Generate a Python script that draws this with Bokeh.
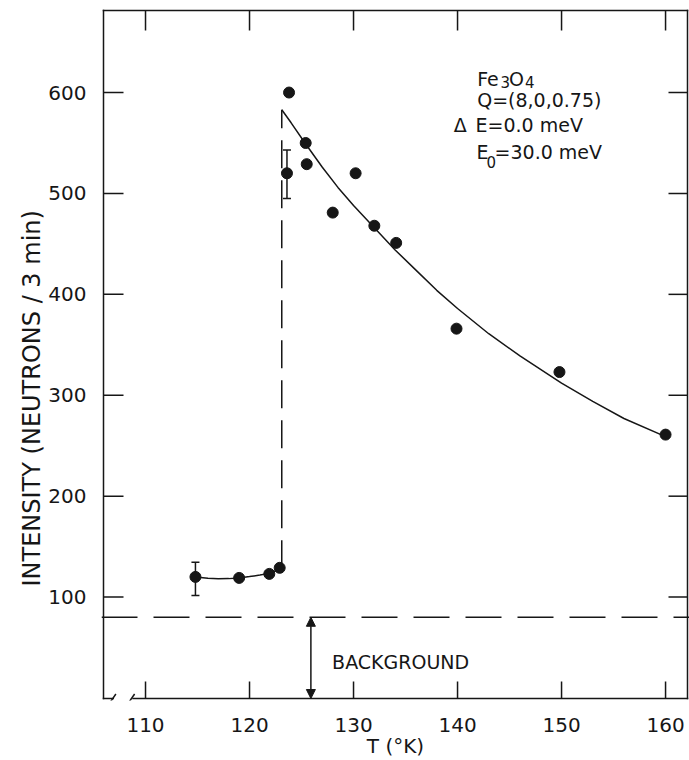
from bokeh.plotting import figure
from bokeh.models import (Range1d, FixedTicker, Span, Whisker, TeeHead, Title,
                          Arrow, NormalHead, ColumnDataSource)
from bokeh.core.properties import value
from bokeh.embed import file_html
from bokeh.resources import INLINE

# ---------------- data ----------------
T_points = [114.8, 119.0, 121.9, 122.9, 123.6, 123.8, 125.4, 125.5, 128.0, 130.2, 132.0, 134.1, 139.9, 149.8, 160.0]
I_points = [120, 119, 123, 129, 520, 600, 550, 529, 481, 520, 468, 451, 366, 323, 261]

err_T = [114.8, 123.6]
err_low = [101.6, 495]
err_high = [134.6, 543]

low_curve_T = [114.8, 116.0, 117.0, 118.0, 119.0, 120.0, 121.0, 121.9, 122.5, 122.9]
low_curve_I = [120.0, 118.7, 118.2, 118.3, 119.0, 120.3, 121.8, 123.5, 125.8, 128.7]

high_curve_T = [123.1, 124.0, 125.4, 127.0, 128.5, 130.0, 132.0, 134.0, 136.0, 138.0, 140.0,
                143.0, 146.0, 150.0, 153.0, 156.0, 160.0]
high_curve_I = [583, 570, 549, 526, 506, 488, 466, 444, 424, 404, 386, 361, 339, 312, 294, 277, 259]

jump_T = [123.1, 123.1]
jump_I = [128.7, 583]

background_level = 80
background_arrow_T = 125.9

x_ticks = [110, 120, 130, 140, 150, 160]
y_ticks = [100, 200, 300, 400, 500, 600]

# axis-box edges (data units) and scale (px per unit)
AX_L, AX_R = 105.96, 162.11
AX_B, AX_T = -0.5, 681.3
PX_X, PX_Y = 10.4, 1.012
PAD = 2  # px of frame beyond the drawn box lines

INK = "#161616"
FONT = "DejaVu Sans"

p = figure(width=689, height=760,
           x_range=Range1d(AX_L - PAD / PX_X, AX_R + PAD / PX_X),
           y_range=Range1d(AX_B - PAD / PX_Y, AX_T + PAD / PX_Y),
           output_backend="svg", toolbar_location=None,
           min_border_left=103 - PAD, min_border_right=0,
           min_border_top=10 - PAD, min_border_bottom=60 - PAD)
p.grid.visible = False
p.outline_line_color = None
p.background_fill_color = "white"
p.border_fill_color = "white"

# bottom axis: labels only
xa = p.xaxis[0]
xa.ticker = FixedTicker(ticks=x_ticks)
xa.axis_line_color = None
xa.major_tick_line_color = None
xa.minor_tick_line_color = None
xa.major_tick_in = 0
xa.major_tick_out = 0
xa.major_label_standoff = 17
xa.major_label_text_font = FONT
xa.major_label_text_font_size = "20px"
xa.major_label_text_color = INK
xa.axis_label = "T (°K)"
xa.axis_label_text_font = FONT
xa.axis_label_text_font_size = "20px"
xa.axis_label_text_font_style = "normal"
xa.axis_label_text_color = INK
xa.axis_label_standoff = -1

# left axis: labels only
ya = p.yaxis[0]
ya.ticker = FixedTicker(ticks=y_ticks)
ya.axis_line_color = None
ya.major_tick_line_color = None
ya.minor_tick_line_color = None
ya.major_tick_in = 0
ya.major_tick_out = 0
ya.major_label_standoff = 15
ya.major_label_text_font = FONT
ya.major_label_text_font_size = "20px"
ya.major_label_text_color = INK

p.add_layout(Title(text="INTENSITY (NEUTRONS / 3 min)", align="left", offset=114,
                   text_font=FONT, text_font_size="24px", text_font_style="normal",
                   text_color=INK, standoff=0), "left")

# box lines (bottom one broken near the origin)
p.segment(x0=[AX_L, AX_L, AX_R, AX_L, 108.8], y0=[AX_B, AX_T, AX_B, AX_B, AX_B],
          x1=[AX_L, AX_R, AX_R, 106.9, AX_R], y1=[AX_T, AX_T, AX_T, AX_B, AX_B],
          line_color=INK, line_width=1.5, line_cap="square")
p.segment(x0=[106.55, 108.35], y0=[-5, -5], x1=[107.15, 108.95], y1=[4, 4],
          line_color=INK, line_width=1.5)

# inward ticks on all four sides
n_x, n_y = len(x_ticks), len(y_ticks)
p.segment(x0=x_ticks, y0=[AX_B] * n_x, x1=x_ticks, y1=[AX_B + 17 / PX_Y] * n_x,
          line_color=INK, line_width=1.5)
p.segment(x0=x_ticks, y0=[AX_T] * n_x, x1=x_ticks, y1=[AX_T - 20 / PX_Y] * n_x,
          line_color=INK, line_width=1.5)
p.segment(x0=[AX_L] * n_y, y0=y_ticks, x1=[AX_L + 20 / PX_X] * n_y, y1=y_ticks,
          line_color=INK, line_width=1.5)
p.segment(x0=[AX_R] * n_y, y0=y_ticks, x1=[AX_R - 19 / PX_X] * n_y, y1=y_ticks,
          line_color=INK, line_width=1.5)

# background dashed line and arrow
p.add_layout(Span(location=background_level, dimension="width", line_color=INK,
                  line_width=1.5, line_dash="36 16"))
p.add_layout(Arrow(x_start=background_arrow_T, y_start=background_level,
                   x_end=background_arrow_T, y_end=AX_B, line_color=INK, line_width=1.5,
                   start=NormalHead(size=9, fill_color=INK, line_color=INK),
                   end=NormalHead(size=9, fill_color=INK, line_color=INK)))
p.text(x=[127.94], y=[36.1], text=["BACKGROUND"], text_font=value(FONT),
       text_font_size=value("19px"), text_color=INK, text_baseline="alphabetic",
       text_align="left")

# curves
p.line(low_curve_T, low_curve_I, line_color=INK, line_width=1.5)
p.line(high_curve_T, high_curve_I, line_color=INK, line_width=1.5)
p.line(jump_T, jump_I, line_color=INK, line_width=1.5, line_dash="28 12")

# error bars
err_src = ColumnDataSource(dict(x=err_T, lo=err_low, hi=err_high))
p.add_layout(Whisker(source=err_src, base="x", lower="lo", upper="hi", dimension="height",
                     line_color=INK, line_width=1.5,
                     lower_head=TeeHead(size=8, line_color=INK, line_width=1.5),
                     upper_head=TeeHead(size=8, line_color=INK, line_width=1.5)))

# data points
p.scatter(T_points, I_points, size=11, marker="circle", fill_color=INK, line_color=INK)

# annotation block
big_text = ["Fe", "O", "Q=(8,0,0.75)", "Δ", "E=0.0 meV", "E", "=30.0 meV"]
big_x = [141.89, 144.95, 141.89, 139.64, 141.73, 141.83, 143.56]
big_y = [613.8, 613.8, 592.4, 567.7, 567.7, 541.3, 541.3]
sub_text = ["3", "4", "0"]
sub_x = [144.13, 146.49, 142.79]
sub_y = [610.2, 610.2, 531.0]

p.text(x=big_x, y=big_y, text=big_text, text_font=value(FONT), text_font_size=value("19px"),
       text_color=INK, text_baseline="alphabetic", text_align="left")
p.text(x=sub_x, y=sub_y, text=sub_text, text_font=value(FONT), text_font_size=value("15px"),
       text_color=INK, text_baseline="alphabetic", text_align="left")

open("out.html", "w").write(file_html(p, INLINE))
